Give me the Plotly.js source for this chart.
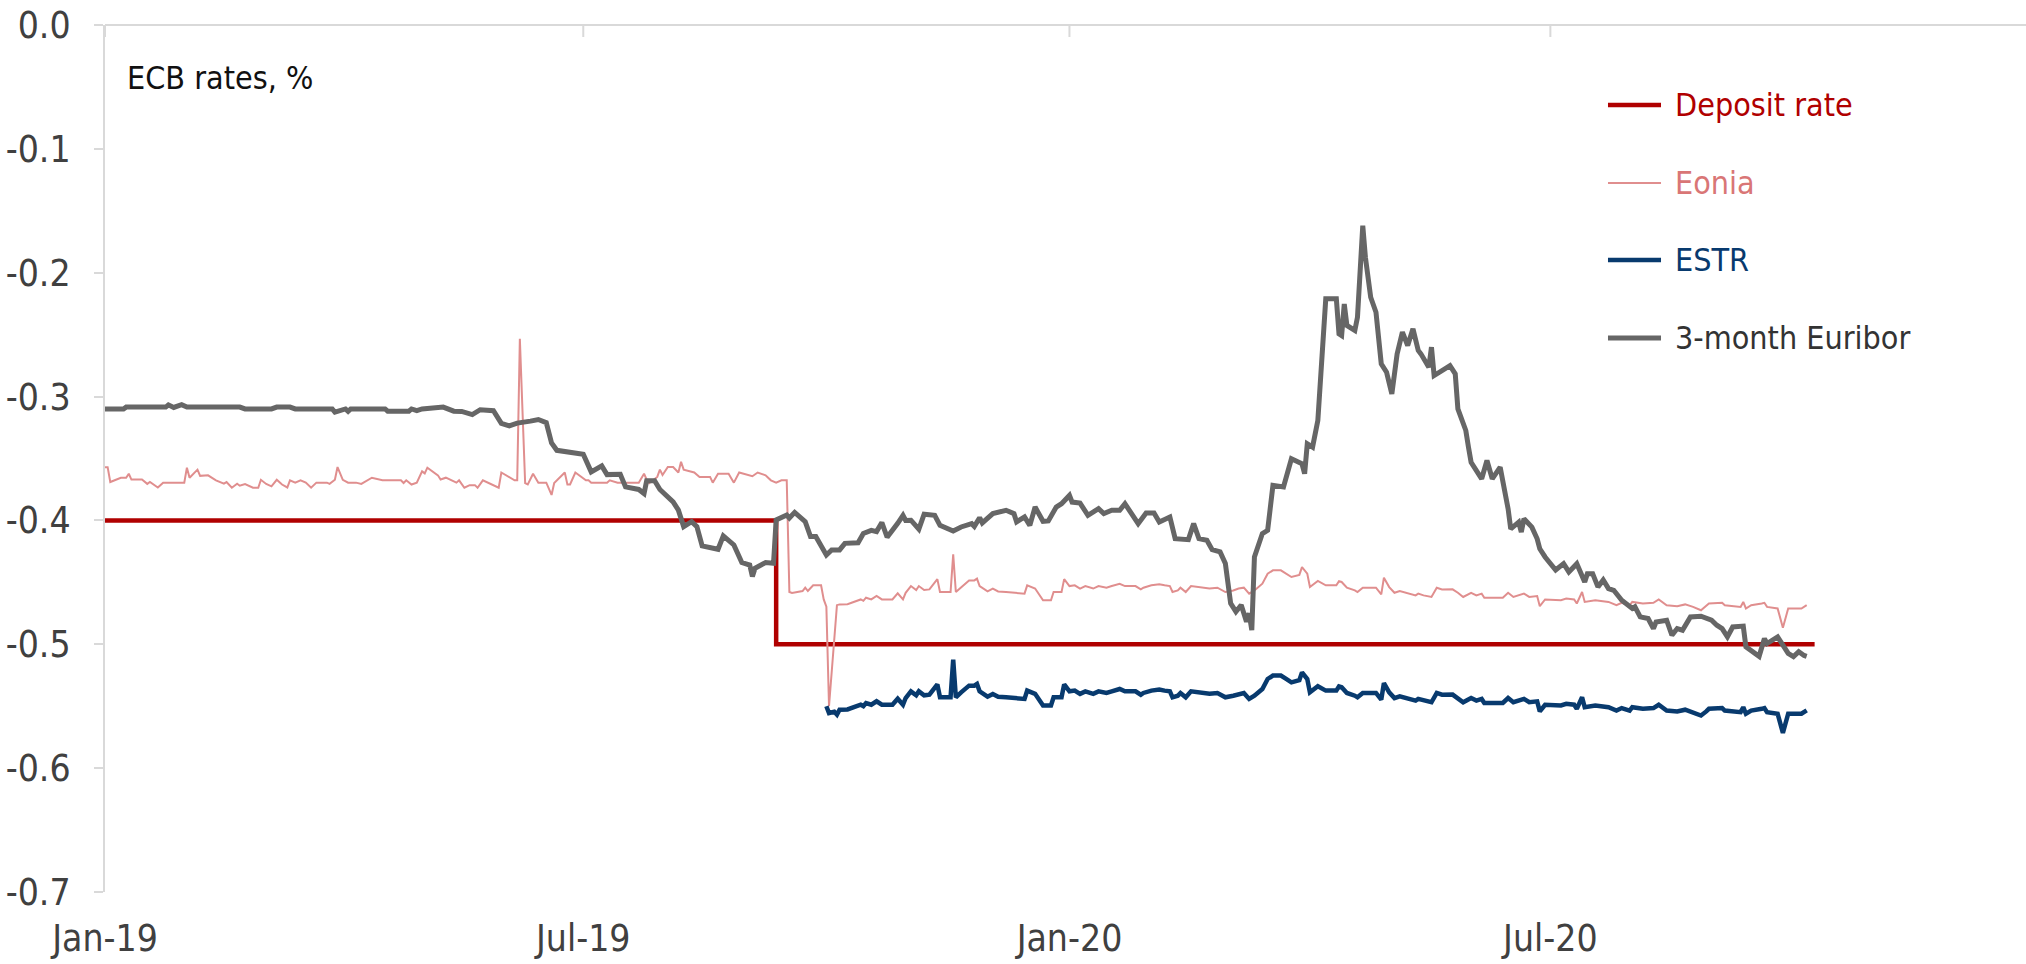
<!DOCTYPE html>
<html>
<head>
<meta charset="utf-8">
<script src="https://cdn.plot.ly/plotly-3.0.1.min.js"></script>
<style>html,body{margin:0;padding:0;background:#fff;}#chart{width:2026px;height:964px;}</style>
</head>
<body>
<div id="chart"></div>
<script>
// ---------- DATA ----------
const seriesNames = ["Deposit rate", "Eonia", "ESTR", "3-month Euribor"];
const xTickVals = ["2019-01-01", "2019-07-01", "2020-01-01", "2020-07-01"];
const xTickText = ["Jan-19", "Jul-19", "Jan-20", "Jul-20"];
const yTickVals = [0, -0.1, -0.2, -0.3, -0.4, -0.5, -0.6, -0.7];
const yTickText = ["0.0", "-0.1", "-0.2", "-0.3", "-0.4", "-0.5", "-0.6", "-0.7"];
const chartLabel = "ECB rates, %";

const depositDates = ["2019-01-01", "2019-09-12", "2020-10-09"];
const depositValues = [-0.40, -0.50, -0.50];

const eoniaDates = ["2019-01-01","2019-01-02","2019-01-03","2019-01-07","2019-01-09","2019-01-10","2019-01-11","2019-01-15","2019-01-17","2019-01-18","2019-01-21","2019-01-23","2019-01-31","2019-02-01","2019-02-02","2019-02-05","2019-02-06","2019-02-09","2019-02-12","2019-02-15","2019-02-16","2019-02-18","2019-02-20","2019-02-21","2019-02-23","2019-02-26","2019-02-28","2019-03-01","2019-03-03","2019-03-05","2019-03-07","2019-03-09","2019-03-11","2019-03-12","2019-03-14","2019-03-16","2019-03-18","2019-03-20","2019-03-22","2019-03-26","2019-03-27","2019-03-29","2019-03-30","2019-04-01","2019-04-03","2019-04-06","2019-04-08","2019-04-12","2019-04-16","2019-04-23","2019-04-24","2019-04-25","2019-04-27","2019-04-29","2019-05-01","2019-05-02","2019-05-03","2019-05-07","2019-05-08","2019-05-10","2019-05-14","2019-05-15","2019-05-17","2019-05-19","2019-05-21","2019-05-22","2019-05-24","2019-05-30","2019-05-31","2019-06-03","2019-06-05","2019-06-06","2019-06-07","2019-06-09","2019-06-10","2019-06-12","2019-06-14","2019-06-17","2019-06-19","2019-06-20","2019-06-24","2019-06-25","2019-06-26","2019-06-28","2019-07-02","2019-07-03","2019-07-04","2019-07-10","2019-07-11","2019-07-14","2019-07-18","2019-07-22","2019-07-24","2019-07-25","2019-07-26","2019-07-29","2019-07-30","2019-07-31","2019-08-02","2019-08-04","2019-08-06","2019-08-07","2019-08-08","2019-08-12","2019-08-14","2019-08-18","2019-08-19","2019-08-21","2019-08-25","2019-08-27","2019-08-29","2019-09-01","2019-09-03","2019-09-05","2019-09-08","2019-09-10","2019-09-12","2019-09-14","2019-09-16","2019-09-17","2019-09-18","2019-09-22","2019-09-23","2019-09-24","2019-09-26","2019-09-29","2019-09-30","2019-10-01","2019-10-02","2019-10-05","2019-10-06","2019-10-09","2019-10-14","2019-10-15","2019-10-16","2019-10-18","2019-10-20","2019-10-22","2019-10-26","2019-10-28","2019-10-30","2019-10-31","2019-11-02","2019-11-04","2019-11-05","2019-11-07","2019-11-09","2019-11-12","2019-11-13","2019-11-17","2019-11-18","2019-11-19","2019-11-21","2019-11-24","2019-11-26","2019-11-27","2019-11-28","2019-12-01","2019-12-03","2019-12-05","2019-12-08","2019-12-15","2019-12-16","2019-12-19","2019-12-22","2019-12-25","2019-12-26","2019-12-29","2019-12-30","2020-01-01","2020-01-03","2020-01-05","2020-01-07","2020-01-10","2020-01-12","2020-01-15","2020-01-17","2020-01-20","2020-01-22","2020-01-26","2020-01-28","2020-01-29","2020-02-01","2020-02-04","2020-02-06","2020-02-08","2020-02-09","2020-02-11","2020-02-12","2020-02-14","2020-02-16","2020-02-19","2020-02-23","2020-02-26","2020-02-29","2020-03-03","2020-03-05","2020-03-07","2020-03-09","2020-03-11","2020-03-14","2020-03-16","2020-03-18","2020-03-21","2020-03-23","2020-03-25","2020-03-28","2020-03-29","2020-03-31","2020-04-01","2020-04-04","2020-04-07","2020-04-11","2020-04-12","2020-04-13","2020-04-15","2020-04-18","2020-04-19","2020-04-21","2020-04-26","2020-04-28","2020-04-29","2020-05-01","2020-05-03","2020-05-05","2020-05-11","2020-05-12","2020-05-14","2020-05-17","2020-05-19","2020-05-21","2020-05-25","2020-05-27","2020-05-29","2020-06-01","2020-06-03","2020-06-05","2020-06-06","2020-06-08","2020-06-13","2020-06-15","2020-06-17","2020-06-21","2020-06-23","2020-06-26","2020-06-27","2020-06-29","2020-07-05","2020-07-07","2020-07-10","2020-07-11","2020-07-13","2020-07-14","2020-07-18","2020-07-23","2020-07-26","2020-07-28","2020-07-31","2020-08-01","2020-08-05","2020-08-09","2020-08-11","2020-08-14","2020-08-18","2020-08-21","2020-08-24","2020-08-27","2020-08-29","2020-08-30","2020-09-04","2020-09-05","2020-09-11","2020-09-12","2020-09-13","2020-09-15","2020-09-19","2020-09-20","2020-09-21","2020-09-25","2020-09-27","2020-09-29","2020-10-04","2020-10-06"];
const eoniaValues = [-0.357,-0.357,-0.369,-0.3655,-0.3655,-0.3623,-0.367,-0.367,-0.3705,-0.369,-0.3734,-0.3695,-0.3695,-0.3574,-0.3655,-0.359,-0.364,-0.3636,-0.3676,-0.3703,-0.369,-0.3736,-0.3704,-0.372,-0.3706,-0.3736,-0.3736,-0.3672,-0.3706,-0.3725,-0.3672,-0.371,-0.3734,-0.3676,-0.3695,-0.3676,-0.3695,-0.3736,-0.3695,-0.3695,-0.3705,-0.3672,-0.3569,-0.3672,-0.3695,-0.3695,-0.3705,-0.3655,-0.3676,-0.3676,-0.3698,-0.3676,-0.371,-0.3695,-0.3604,-0.362,-0.3574,-0.3636,-0.367,-0.3655,-0.3695,-0.3676,-0.3736,-0.3715,-0.3715,-0.3736,-0.3676,-0.3736,-0.3613,-0.3655,-0.3676,-0.3676,-0.2533,-0.3698,-0.3709,-0.3623,-0.3695,-0.3695,-0.3794,-0.3698,-0.3613,-0.3709,-0.3709,-0.3613,-0.3676,-0.3676,-0.3695,-0.3695,-0.3676,-0.3695,-0.3695,-0.3695,-0.3623,-0.367,-0.3698,-0.3649,-0.359,-0.3633,-0.3569,-0.3569,-0.3613,-0.3527,-0.359,-0.3613,-0.3649,-0.3649,-0.3695,-0.3623,-0.3623,-0.3695,-0.3613,-0.3633,-0.3643,-0.3613,-0.3636,-0.3676,-0.3695,-0.3676,-0.3676,-0.4578,-0.4586,-0.457,-0.4543,-0.457,-0.4524,-0.4524,-0.4638,-0.4697,-0.550,-0.4684,-0.4678,-0.4676,-0.4638,-0.4649,-0.4624,-0.4638,-0.461,-0.4638,-0.4638,-0.4589,-0.4638,-0.4584,-0.453,-0.4562,-0.453,-0.4562,-0.4557,-0.4474,-0.4578,-0.4578,-0.4274,-0.4578,-0.4538,-0.4484,-0.4484,-0.447,-0.453,-0.4573,-0.4551,-0.4573,-0.4578,-0.4591,-0.4524,-0.455,-0.4644,-0.4644,-0.4578,-0.4578,-0.4474,-0.453,-0.4524,-0.455,-0.453,-0.455,-0.453,-0.4543,-0.453,-0.4511,-0.453,-0.453,-0.4557,-0.4543,-0.4524,-0.4516,-0.4524,-0.453,-0.4578,-0.4565,-0.4543,-0.4578,-0.453,-0.4537,-0.455,-0.4543,-0.4578,-0.4565,-0.455,-0.4543,-0.4591,-0.4565,-0.4511,-0.443,-0.4403,-0.4403,-0.443,-0.4457,-0.444,-0.4377,-0.443,-0.4538,-0.4489,-0.4524,-0.4524,-0.449,-0.4497,-0.4543,-0.4565,-0.4578,-0.4543,-0.4543,-0.4597,-0.4463,-0.4538,-0.4584,-0.457,-0.4605,-0.4591,-0.4605,-0.4618,-0.4543,-0.4557,-0.4556,-0.4584,-0.4618,-0.4584,-0.4605,-0.4591,-0.4624,-0.4624,-0.4624,-0.4584,-0.4618,-0.4591,-0.4618,-0.4611,-0.4692,-0.4638,-0.4644,-0.4631,-0.4638,-0.4671,-0.4578,-0.4658,-0.4644,-0.4658,-0.4685,-0.4665,-0.4685,-0.4658,-0.4671,-0.4665,-0.4638,-0.4685,-0.4692,-0.4678,-0.4698,-0.4725,-0.4692,-0.4671,-0.4665,-0.4685,-0.4698,-0.4658,-0.4711,-0.4685,-0.4671,-0.4665,-0.4698,-0.4711,-0.4866,-0.4711,-0.4711,-0.4684];

const estrDates = ["2019-10-01","2019-10-02","2019-10-04","2019-10-05","2019-10-06","2019-10-09","2019-10-14","2019-10-15","2019-10-16","2019-10-18","2019-10-20","2019-10-22","2019-10-26","2019-10-28","2019-10-30","2019-10-31","2019-11-02","2019-11-04","2019-11-05","2019-11-07","2019-11-09","2019-11-12","2019-11-13","2019-11-17","2019-11-18","2019-11-19","2019-11-21","2019-11-24","2019-11-26","2019-11-27","2019-11-28","2019-12-01","2019-12-03","2019-12-05","2019-12-08","2019-12-15","2019-12-16","2019-12-19","2019-12-22","2019-12-25","2019-12-26","2019-12-29","2019-12-30","2020-01-01","2020-01-03","2020-01-05","2020-01-07","2020-01-10","2020-01-12","2020-01-15","2020-01-17","2020-01-20","2020-01-22","2020-01-26","2020-01-28","2020-01-29","2020-02-01","2020-02-04","2020-02-06","2020-02-08","2020-02-09","2020-02-11","2020-02-12","2020-02-14","2020-02-16","2020-02-19","2020-02-23","2020-02-26","2020-02-29","2020-03-03","2020-03-05","2020-03-07","2020-03-09","2020-03-11","2020-03-14","2020-03-16","2020-03-18","2020-03-21","2020-03-23","2020-03-25","2020-03-28","2020-03-29","2020-03-31","2020-04-01","2020-04-04","2020-04-07","2020-04-11","2020-04-12","2020-04-13","2020-04-15","2020-04-18","2020-04-19","2020-04-21","2020-04-26","2020-04-28","2020-04-29","2020-05-01","2020-05-03","2020-05-05","2020-05-11","2020-05-12","2020-05-14","2020-05-17","2020-05-19","2020-05-21","2020-05-25","2020-05-27","2020-05-29","2020-06-01","2020-06-03","2020-06-05","2020-06-06","2020-06-08","2020-06-13","2020-06-15","2020-06-17","2020-06-21","2020-06-23","2020-06-26","2020-06-27","2020-06-29","2020-07-05","2020-07-07","2020-07-10","2020-07-11","2020-07-13","2020-07-14","2020-07-18","2020-07-23","2020-07-26","2020-07-28","2020-07-31","2020-08-01","2020-08-05","2020-08-09","2020-08-11","2020-08-14","2020-08-18","2020-08-21","2020-08-24","2020-08-27","2020-08-29","2020-08-30","2020-09-04","2020-09-05","2020-09-11","2020-09-12","2020-09-13","2020-09-15","2020-09-19","2020-09-20","2020-09-21","2020-09-25","2020-09-27","2020-09-29","2020-10-04","2020-10-06"];
const estrValues = [-0.550,-0.5555,-0.5545,-0.5568,-0.5528,-0.5526,-0.5488,-0.5499,-0.5474,-0.5488,-0.546,-0.5488,-0.5488,-0.5439,-0.5488,-0.5434,-0.538,-0.5412,-0.538,-0.5412,-0.5407,-0.5324,-0.5428,-0.5428,-0.5124,-0.5428,-0.5388,-0.5334,-0.5334,-0.532,-0.538,-0.5423,-0.5401,-0.5423,-0.5428,-0.5441,-0.5374,-0.54,-0.5494,-0.5494,-0.5428,-0.5428,-0.5324,-0.538,-0.5374,-0.54,-0.538,-0.54,-0.538,-0.5393,-0.538,-0.5361,-0.538,-0.538,-0.5407,-0.5393,-0.5374,-0.5366,-0.5374,-0.538,-0.5428,-0.5415,-0.5393,-0.5428,-0.538,-0.5387,-0.54,-0.5393,-0.5428,-0.5415,-0.54,-0.5393,-0.5441,-0.5415,-0.5361,-0.528,-0.5253,-0.5253,-0.528,-0.5307,-0.529,-0.5227,-0.528,-0.5388,-0.5339,-0.5374,-0.5374,-0.534,-0.5347,-0.5393,-0.5415,-0.5428,-0.5393,-0.5393,-0.5447,-0.5313,-0.5388,-0.5434,-0.542,-0.5455,-0.5441,-0.5455,-0.5468,-0.5393,-0.5407,-0.5406,-0.5434,-0.5468,-0.5434,-0.5455,-0.5441,-0.5474,-0.5474,-0.5474,-0.5434,-0.5468,-0.5441,-0.5468,-0.5461,-0.5542,-0.5488,-0.5494,-0.5481,-0.5488,-0.5521,-0.5428,-0.5508,-0.5494,-0.5508,-0.5535,-0.5515,-0.5535,-0.5508,-0.5521,-0.5515,-0.5488,-0.5535,-0.5542,-0.5528,-0.5548,-0.5575,-0.5542,-0.5521,-0.5515,-0.5535,-0.5548,-0.5508,-0.5561,-0.5535,-0.5521,-0.5515,-0.5548,-0.5561,-0.5716,-0.5561,-0.5561,-0.5534];

const euriborDates = ["2019-01-01","2019-01-08","2019-01-09","2019-01-24","2019-01-25","2019-01-27","2019-01-30","2019-02-01","2019-02-21","2019-02-23","2019-03-05","2019-03-07","2019-03-12","2019-03-14","2019-03-28","2019-03-29","2019-04-02","2019-04-03","2019-04-04","2019-04-17","2019-04-18","2019-04-26","2019-04-27","2019-04-29","2019-05-01","2019-05-06","2019-05-09","2019-05-13","2019-05-16","2019-05-20","2019-05-23","2019-05-28","2019-05-31","2019-06-03","2019-06-06","2019-06-11","2019-06-14","2019-06-17","2019-06-19","2019-06-21","2019-06-26","2019-07-01","2019-07-04","2019-07-08","2019-07-10","2019-07-15","2019-07-17","2019-07-22","2019-07-24","2019-07-25","2019-07-28","2019-07-30","2019-08-04","2019-08-06","2019-08-08","2019-08-11","2019-08-13","2019-08-15","2019-08-21","2019-08-23","2019-08-27","2019-08-30","2019-09-02","2019-09-03","2019-09-04","2019-09-08","2019-09-11","2019-09-12","2019-09-16","2019-09-17","2019-09-19","2019-09-23","2019-09-25","2019-09-27","2019-10-01","2019-10-03","2019-10-06","2019-10-08","2019-10-13","2019-10-15","2019-10-18","2019-10-20","2019-10-22","2019-10-24","2019-10-28","2019-10-30","2019-10-31","2019-11-02","2019-11-05","2019-11-07","2019-11-11","2019-11-13","2019-11-18","2019-11-21","2019-11-25","2019-11-26","2019-11-28","2019-11-29","2019-12-03","2019-12-08","2019-12-11","2019-12-12","2019-12-15","2019-12-17","2019-12-19","2019-12-22","2019-12-24","2019-12-27","2019-12-29","2020-01-01","2020-01-02","2020-01-05","2020-01-08","2020-01-12","2020-01-14","2020-01-17","2020-01-20","2020-01-22","2020-01-27","2020-01-30","2020-02-02","2020-02-04","2020-02-08","2020-02-10","2020-02-15","2020-02-17","2020-02-19","2020-02-22","2020-02-24","2020-02-27","2020-02-29","2020-03-02","2020-03-04","2020-03-06","2020-03-08","2020-03-09","2020-03-10","2020-03-11","2020-03-14","2020-03-16","2020-03-18","2020-03-22","2020-03-25","2020-03-29","2020-03-30","2020-03-31","2020-04-02","2020-04-04","2020-04-07","2020-04-11","2020-04-12","2020-04-13","2020-04-14","2020-04-15","2020-04-18","2020-04-19","2020-04-21","2020-04-22","2020-04-24","2020-04-26","2020-04-28","2020-04-30","2020-05-02","2020-05-04","2020-05-06","2020-05-08","2020-05-10","2020-05-12","2020-05-13","2020-05-16","2020-05-17","2020-05-18","2020-05-24","2020-05-26","2020-05-27","2020-05-30","2020-05-31","2020-06-01","2020-06-05","2020-06-07","2020-06-09","2020-06-12","2020-06-15","2020-06-16","2020-06-19","2020-06-20","2020-06-21","2020-06-24","2020-06-26","2020-06-27","2020-06-29","2020-07-03","2020-07-06","2020-07-08","2020-07-11","2020-07-14","2020-07-15","2020-07-17","2020-07-19","2020-07-21","2020-07-23","2020-07-25","2020-07-28","2020-08-01","2020-08-02","2020-08-04","2020-08-07","2020-08-09","2020-08-10","2020-08-14","2020-08-16","2020-08-18","2020-08-20","2020-08-23","2020-08-27","2020-08-31","2020-09-02","2020-09-04","2020-09-06","2020-09-08","2020-09-12","2020-09-13","2020-09-18","2020-09-20","2020-09-21","2020-09-25","2020-09-27","2020-09-29","2020-10-01","2020-10-03","2020-10-05","2020-10-06"];
const euriborValues = [-0.310,-0.310,-0.3085,-0.3085,-0.3067,-0.3088,-0.3065,-0.3085,-0.3085,-0.310,-0.310,-0.3085,-0.3085,-0.310,-0.310,-0.3125,-0.310,-0.312,-0.310,-0.310,-0.3118,-0.3118,-0.310,-0.3114,-0.310,-0.3085,-0.3085,-0.3118,-0.312,-0.3146,-0.3106,-0.3114,-0.3216,-0.3237,-0.3214,-0.3198,-0.3185,-0.3211,-0.3375,-0.3434,-0.345,-0.3466,-0.3608,-0.356,-0.363,-0.3627,-0.3729,-0.375,-0.3783,-0.368,-0.368,-0.375,-0.385,-0.3917,-0.405,-0.401,-0.405,-0.4206,-0.4233,-0.4125,-0.4198,-0.434,-0.436,-0.4453,-0.4386,-0.434,-0.4346,-0.3996,-0.3956,-0.398,-0.3935,-0.401,-0.413,-0.413,-0.4279,-0.4238,-0.4238,-0.4185,-0.418,-0.4105,-0.408,-0.409,-0.4017,-0.4136,-0.4023,-0.3959,-0.400,-0.3998,-0.407,-0.395,-0.3959,-0.404,-0.4085,-0.4053,-0.4026,-0.4048,-0.3978,-0.402,-0.3945,-0.3918,-0.3945,-0.4012,-0.3972,-0.404,-0.3892,-0.4007,-0.4004,-0.3892,-0.3865,-0.3798,-0.3852,-0.386,-0.3959,-0.3905,-0.3945,-0.3918,-0.3918,-0.3865,-0.4026,-0.394,-0.394,-0.4012,-0.3972,-0.4147,-0.4155,-0.4026,-0.4147,-0.416,-0.4236,-0.4254,-0.4348,-0.467,-0.4737,-0.4683,-0.4818,-0.475,-0.4885,-0.4294,-0.4106,-0.408,-0.3717,-0.373,-0.3502,-0.3543,-0.3623,-0.3381,-0.3408,-0.3193,-0.2211,-0.2211,-0.2493,-0.2507,-0.2252,-0.2426,-0.2466,-0.2359,-0.162,-0.1875,-0.2198,-0.2319,-0.2736,-0.2803,-0.2978,-0.2655,-0.248,-0.2588,-0.2453,-0.2628,-0.2655,-0.2763,-0.2601,-0.283,-0.275,-0.2817,-0.310,-0.3274,-0.3409,-0.353,-0.3664,-0.3516,-0.3664,-0.357,-0.3906,-0.4068,-0.4014,-0.4094,-0.3987,-0.4054,-0.4148,-0.4229,-0.4295,-0.440,-0.4349,-0.4416,-0.4349,-0.4497,-0.443,-0.443,-0.4537,-0.448,-0.455,-0.4564,-0.4645,-0.471,-0.4697,-0.4779,-0.4792,-0.4873,-0.482,-0.4806,-0.4927,-0.4873,-0.4886,-0.4779,-0.4773,-0.4806,-0.4846,-0.4873,-0.494,-0.486,-0.4853,-0.502,-0.5097,-0.4954,-0.4994,-0.494,-0.5007,-0.5074,-0.510,-0.506,-0.509,-0.5097];

// ---------- STYLE ----------
const FONT = "'Liberation Sans Narrow', 'Arial Narrow', 'DejaVu Sans Condensed', sans-serif";
const colors = ["#b00000", "#e08e8e", "#083a6e", "#666666"];
const textColors = ["#b00000", "#d97676", "#083a6e", "#333333"];
const widths = [4.5, 2, 4.5, 5];
const AXIS = "#d9d9d9";

const xs = [depositDates, eoniaDates, estrDates, euriborDates];
const ys = [depositValues, eoniaValues, estrValues, euriborValues];

const traces = seriesNames.map((n, i) => ({
  type: "scatter",
  mode: "lines",
  x: xs[i],
  y: ys[i],
  name: n,
  showlegend: false,
  line: { color: colors[i], width: widths[i], shape: i === 0 ? "hv" : "linear" },
  hoverinfo: "skip"
}));

// cross tick marks on the zero (top) line
const shapes = xTickVals.map(d => ({
  type: "line", xref: "x", yref: "y", ysizemode: "pixel", yanchor: 0,
  x0: d, x1: d, y0: -12, y1: 11,
  line: { color: AXIS, width: 2 }, layer: "below"
}));

// legend (drawn as line samples + labels, placed in paper space)
const legendRowsY = [0.9077, 0.8178, 0.729, 0.639];
const legendLineX = [0.7824, 0.810];
const legendTextX = 0.8165;
const annotations = [{
  text: chartLabel, xref: "paper", yref: "paper", x: 0.0104, y: 0.9394,
  xanchor: "left", yanchor: "middle", showarrow: false,
  font: { family: FONT, size: 32, color: "#111111" }
}];
seriesNames.forEach((n, i) => {
  shapes.push({
    type: "line", xref: "paper", yref: "paper",
    x0: legendLineX[0], x1: legendLineX[1], y0: legendRowsY[i], y1: legendRowsY[i],
    line: { color: colors[i], width: widths[i] }
  });
  annotations.push({
    text: n, xref: "paper", yref: "paper", x: legendTextX, y: legendRowsY[i],
    xanchor: "left", yanchor: "middle", showarrow: false,
    font: { family: FONT, size: 32, color: textColors[i] }
  });
});

const layout = {
  width: 2026, height: 964,
  margin: { l: 105, r: 0, t: 25, b: 72 },
  paper_bgcolor: "#ffffff", plot_bgcolor: "#ffffff",
  font: { family: FONT, size: 37, color: "#404040" },
  showlegend: false,
  xaxis: {
    type: "date", range: ["2019-01-01", "2020-12-28"],
    tickmode: "array", tickvals: xTickVals, ticktext: xTickText,
    ticks: "outside", ticklen: 14, tickcolor: "rgba(0,0,0,0)",
    showline: false, showgrid: false, zeroline: false,
    tickfont: { family: FONT, size: 37, color: "#404040" }, fixedrange: true
  },
  yaxis: {
    range: [-0.7, 0], tickmode: "array", tickvals: yTickVals, ticktext: yTickText,
    ticks: "outside", ticklen: 9, tickwidth: 2, tickcolor: AXIS,
    showline: true, linecolor: AXIS, linewidth: 2,
    showgrid: false, zeroline: true, zerolinecolor: AXIS, zerolinewidth: 2,
    ticklabelstandoff: 16,
    tickfont: { family: FONT, size: 37, color: "#404040" }, fixedrange: true
  },
  shapes: shapes,
  annotations: annotations
};

Plotly.newPlot("chart", traces, layout, { displayModeBar: false, staticPlot: true });
</script>
</body>
</html>
